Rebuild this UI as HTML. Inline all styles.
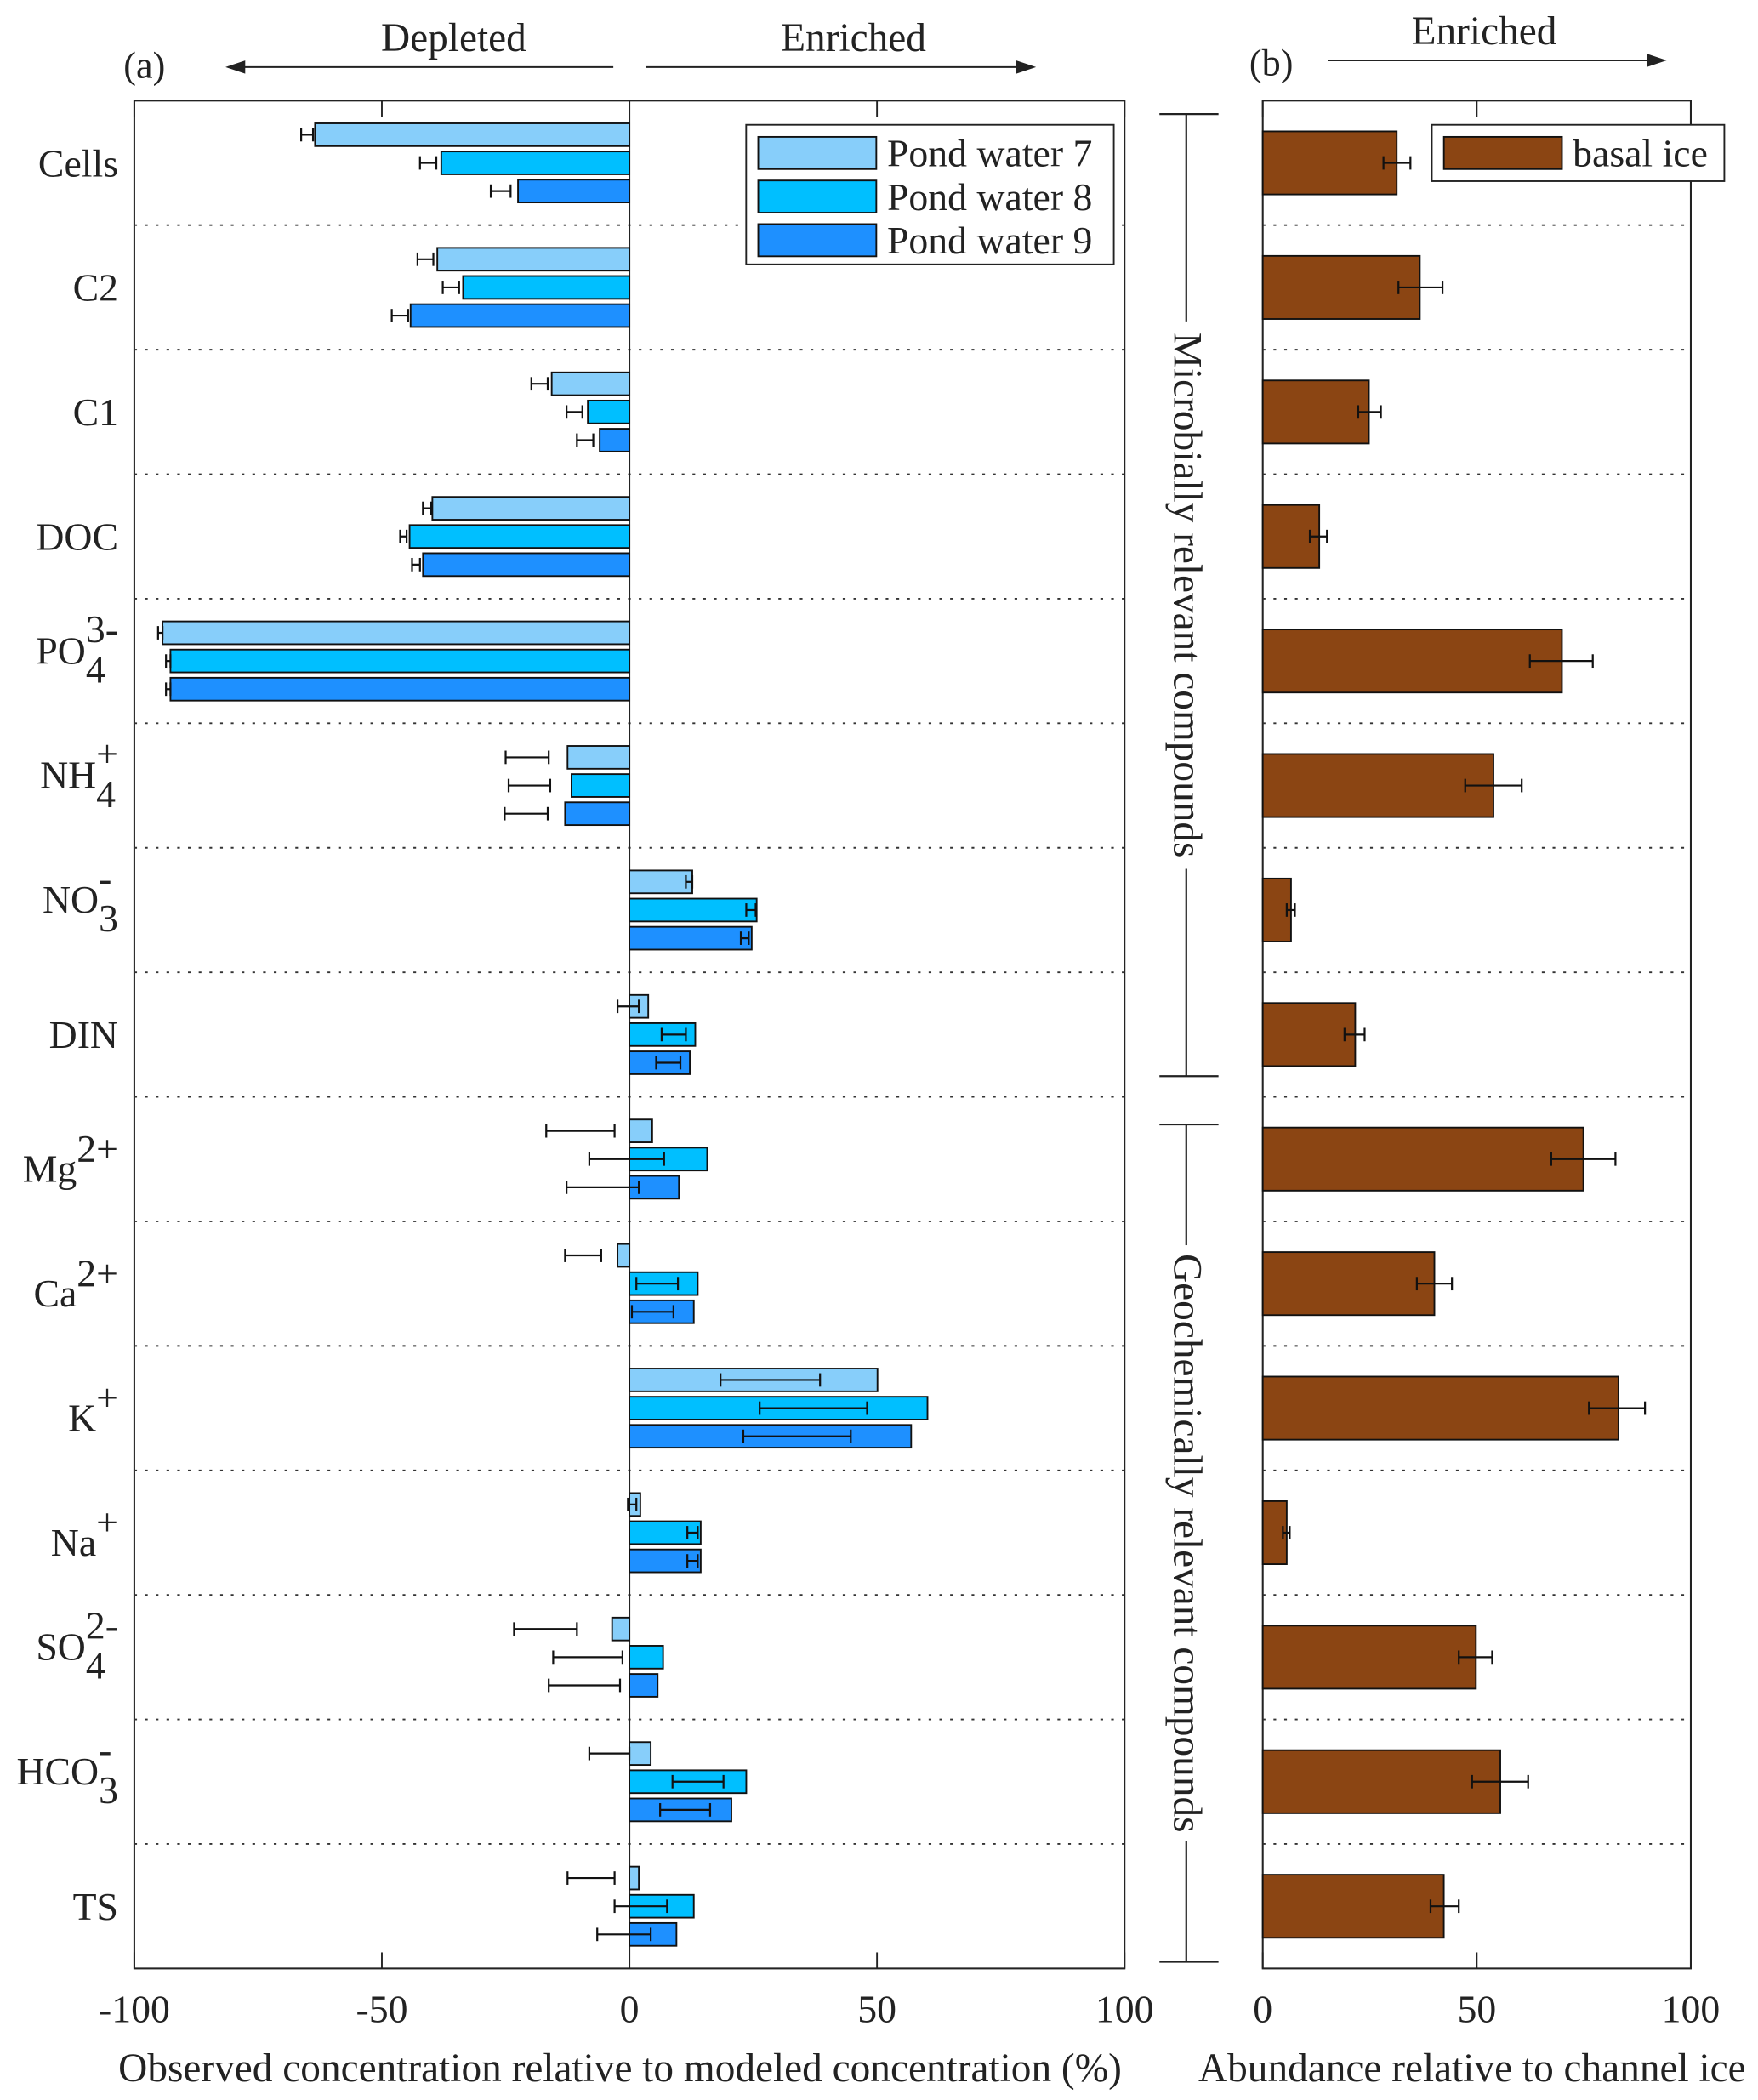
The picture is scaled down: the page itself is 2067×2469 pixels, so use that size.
<!DOCTYPE html>
<html><head><meta charset="utf-8"><style>
html,body{margin:0;padding:0;background:#fff;}
svg{display:block;font-family:"Liberation Serif",serif;}
</style></head><body>
<svg id="chart" width="2067" height="2469" viewBox="0 0 1310 1565" xmlns="http://www.w3.org/2000/svg">
<rect x="0" y="0" width="1310" height="1565" fill="#fff"/>
<g id="panelA"></g>
<g id="panelB"></g>
<g id="deco"></g>
</svg>
<script>
const categories = ["Cells","C2","C1","DOC","PO4","NH4","NO3","DIN","Mg","Ca","K","Na","SO4","HCO3","TS"];
const pw7 = [-63.5,-38.8,-15.7,-39.8,-94.3,-12.5,12.7,3.8,4.6,-2.4,50.1,2.2,-3.5,4.3,1.9];
const pw8 = [-38,-33.6,-8.4,-44.4,-92.7,-11.7,25.7,13.3,15.7,13.8,60.2,14.4,6.8,23.6,13];
const pw9 = [-22.5,-44.2,-6,-41.7,-92.7,-13,24.7,12.2,10,13,56.9,14.4,5.7,20.6,9.5];
const pw7ErrLo = [-66.3,-42.8,-19.8,-41.7,-95.2,-25,11.4,-2.4,-16.8,-13,18.4,-0.3,-23.3,-8.1,-12.5];
const pw7ErrHi = [-63.9,-39.6,-16.5,-40.1,-94.3,-16.3,12.7,1.9,-3,-5.7,38.5,1.4,-10.6,0,-3];
const pw8ErrLo = [-42.3,-37.7,-12.7,-46.3,-93.6,-24.4,23.6,6.5,-8.1,1.4,26.3,11.7,-15.4,8.7,-3];
const pw8ErrHi = [-39,-34.4,-9.5,-45,-92.7,-16,25.5,11.4,7,9.8,48,13.8,-1.4,19,7.6];
const pw9ErrLo = [-28,-48,-10.6,-43.9,-93.6,-25.2,22.5,5.4,-12.7,0.5,23,11.7,-16.3,6.2,-6.5];
const pw9ErrHi = [-24,-44.7,-7.3,-42.3,-92.7,-16.5,24.1,10.3,1.9,8.9,44.7,13.8,-1.9,16.3,4.3];
const basal = [31.3,36.7,24.8,13.2,69.9,53.9,6.6,21.6,74.9,40.1,83.1,5.6,49.8,55.5,42.3];
const basalErrLo = [28.2,31.7,22.3,11,62.4,47.3,5.6,19.1,67.4,36,76.2,4.7,45.8,48.9,39.2];
const basalErrHi = [34.5,42,27.6,15,77.1,60.5,7.5,23.8,82.4,44.2,89.3,6.3,53.6,62,45.8];
const ticksA = [-100,-50,0,50,100];
const ticksB = [0,50,100];
const labelParts = {Cells:["Cells","",""],C2:["C2","",""],C1:["C1","",""],DOC:["DOC","",""],PO4:["PO","4","3-"],NH4:["NH","4","+"],NO3:["NO","3","-"],DIN:["DIN","",""],Mg:["Mg","","2+"],Ca:["Ca","","2+"],K:["K","","+"],Na:["Na","","+"],SO4:["SO","4","2-"],HCO3:["HCO","3","-"],TS:["TS","",""]};

const NS="http://www.w3.org/2000/svg";
function mk(parent,tag,attrs){const e=document.createElementNS(NS,tag);for(const k in attrs)e.setAttribute(k,attrs[k]);parent.appendChild(e);return e;}
const A=document.getElementById('panelA'),B=document.getElementById('panelB'),D=document.getElementById('deco');
const top0=75,bot0=1467,gh=(bot0-top0)/categories.length;
const xA=v=>469+v*3.69, xB=v=>941+v*3.19;
const yC=i=>top0+gh*(i+0.5);

let f=mk(A,'rect',{x:100,y:top0,width:738,height:bot0-top0,fill:'none',stroke:'#222','stroke-width':1.3});

f=mk(B,'rect',{x:941,y:top0,width:319,height:bot0-top0,fill:'none',stroke:'#222','stroke-width':1.3});


for(let i=1;i<categories.length;i++){
  const y=top0+gh*i;
  let l=mk(A,'line',{x1:100,x2:838,y1:y,y2:y,stroke:'#333','stroke-width':1.2,'stroke-dasharray':'2,6'});
  
  l=mk(B,'line',{x1:941,x2:1260,y1:y,y2:y,stroke:'#333','stroke-width':1.2,'stroke-dasharray':'2,6'});
  
}
ticksA.forEach(t=>{const x=xA(t);
  mk(A,'line',{x1:x,x2:x,y1:bot0,y2:bot0-12,stroke:'#222','stroke-width':1.2});
  mk(A,'line',{x1:x,x2:x,y1:top0,y2:top0+12,stroke:'#222','stroke-width':1.2});
  const tx=mk(A,'text',{x:x,y:1507,'font-size':29,'text-anchor':'middle',fill:'#222'});tx.textContent=t;
  
});
ticksB.forEach(t=>{const x=xB(t);
  mk(B,'line',{x1:x,x2:x,y1:bot0,y2:bot0-12,stroke:'#222','stroke-width':1.2});
  mk(B,'line',{x1:x,x2:x,y1:top0,y2:top0+12,stroke:'#222','stroke-width':1.2});
  const tx=mk(B,'text',{x:x,y:1507,'font-size':29,'text-anchor':'middle',fill:'#222'});tx.textContent=t;
  
});
let zl=mk(A,'line',{x1:xA(0),x2:xA(0),y1:top0,y2:bot0,stroke:'#222','stroke-width':1.3});


const series=[{v:pw7,lo:pw7ErrLo,hi:pw7ErrHi,c:'#87cefa',o:-21,n:'pw7'},{v:pw8,lo:pw8ErrLo,hi:pw8ErrHi,c:'#00bfff',o:0,n:'pw8'},{v:pw9,lo:pw9ErrLo,hi:pw9ErrHi,c:'#1e90ff',o:21,n:'pw9'}];
const bh=17;
categories.forEach((cat,i)=>{
  const yc=yC(i);
  series.forEach(s=>{
    const y=yc+s.o, x0=xA(0), x1=xA(s.v[i]);
    const r=mk(A,'rect',{x:Math.min(x0,x1),y:y-bh/2,width:Math.abs(x1-x0),height:bh,fill:s.c,stroke:'#111','stroke-width':1.2});
    
    const g=mk(A,'g',{stroke:'#111','stroke-width':1.4});
    
    const a=xA(s.lo[i]),b=xA(s.hi[i]);
    mk(g,'line',{x1:a,x2:b,y1:y,y2:y});mk(g,'line',{x1:a,x2:a,y1:y-5,y2:y+5});mk(g,'line',{x1:b,x2:b,y1:y-5,y2:y+5});
  });
  const r=mk(B,'rect',{x:xB(0),y:yc-23.5,width:xB(basal[i])-xB(0),height:47,fill:'#8b4513',stroke:'#111','stroke-width':1.2});
  
  const g=mk(B,'g',{stroke:'#111','stroke-width':1.4});
  
  const a=xB(basalErrLo[i]),b=xB(basalErrHi[i]);
  mk(g,'line',{x1:a,x2:b,y1:yc,y2:yc});mk(g,'line',{x1:a,x2:a,y1:yc-5,y2:yc+5});mk(g,'line',{x1:b,x2:b,y1:yc-5,y2:yc+5});
  const p=labelParts[cat];
  const t=mk(A,'text',{x:88,y:yc+10,'font-size':29,'text-anchor':'end',fill:'#222'});
  
  let s1=mk(t,'tspan',{});s1.textContent=p[0];
  if(p[1]&&p[2]){
    t.setAttribute('y',yc+2);
    const s2=mk(t,'tspan',{dy:14});s2.textContent=p[1];
    const s3=mk(t,'tspan',{dx:-14.5,dy:-30});s3.textContent=p[2];
  } else if(p[2]){const s2=mk(t,'tspan',{dy:-15});s2.textContent=p[2];t.setAttribute('y',yc+17);}
});

function legend(parent,x,y,w,h,items){
  const g=mk(parent,'g',{});
  mk(g,'rect',{x:x,y:y,width:w,height:h,fill:'#fff',stroke:'#222','stroke-width':1.2});
  items.forEach((it,k)=>{const yy=y+21+k*32.5;
    const e=mk(g,'g',{});
    mk(e,'rect',{x:x+9,y:yy-12,width:88,height:24,fill:it[1],stroke:'#111','stroke-width':1.2});
    const t=mk(e,'text',{x:x+105,y:yy+10,'font-size':29,fill:'#222'});t.textContent=it[0];});
}
legend(A,556,93,274,104,[["Pond water 7","#87cefa"],["Pond water 8","#00bfff"],["Pond water 9","#1e90ff"]]);
legend(B,1067,93,218,42,[["basal ice","#8b4513"]]);

function txt(x,y,s,str,anchor,name){const t=mk(D,'text',{x:x,y:y,'font-size':s,'text-anchor':anchor||'middle',fill:'#222'});t.textContent=str;return t;}
txt(92,58,28,"(a)",'start','panel-a-label');
txt(931,56,28,"(b)",'start','panel-b-label');
txt(338,38,30,"Depleted",'middle','depleted-label');
txt(636,38,30,"Enriched",'middle','enriched-label-a');
txt(1106,33,30,"Enriched",'middle','enriched-label-b');
function arrow(x1,x2,y,name){const g=mk(D,'g',{stroke:'#222','stroke-width':1.3,fill:'#222'});
  mk(g,'line',{x1:x1,x2:x2,y1:y,y2:y});const d=x2>x1?-1:1;mk(g,'path',{d:`M${x2},${y} L${x2+d*12},${y-4} L${x2+d*12},${y+4} Z`});}
arrow(457,170,50,'depleted-arrow');arrow(481,770,50,'enriched-arrow-a');arrow(990,1240,45,'enriched-arrow-b');
txt(462,1551,30,"Observed concentration relative to modeled concentration (%)",'middle','x-axis-title-a');
txt(1097,1551,30,"Abundance relative to channel ice",'middle','x-axis-title-b');
function bracket(y1,y2,label,name,half){const g=mk(D,'g',{stroke:'#222','stroke-width':1.4});
  mk(g,'line',{x1:884,x2:884,y1:y1,y2:y2});mk(g,'line',{x1:864,x2:908,y1:y1,y2:y1});mk(g,'line',{x1:864,x2:908,y1:y2,y2:y2});
  const yc=(y1+y2)/2;mk(g,'rect',{x:868,y:yc-half,width:32,height:2*half,fill:'#fff',stroke:'none'});
  const t=mk(D,'text',{x:0,y:0,'font-size':30,'text-anchor':'middle',fill:'#222',transform:`translate(875,${yc}) rotate(90)`});t.textContent=label;
  }
bracket(85,802,"Microbially relevant compounds",'microbial-bracket',204);
bracket(838,1462,"Geochemically relevant compounds",'geochemical-bracket',222);
</script>
</body></html>
